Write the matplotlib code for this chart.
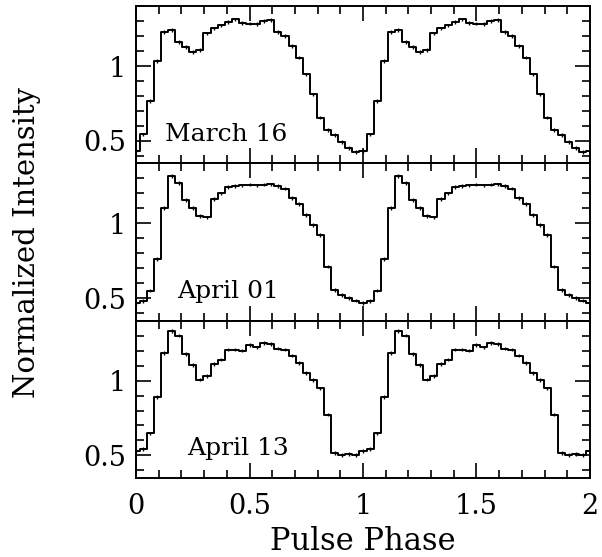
import numpy as np
import matplotlib
matplotlib.use('Agg')
import matplotlib.pyplot as plt
from matplotlib.ticker import MultipleLocator, FuncFormatter

plt.rcParams['font.family'] = 'DejaVu Serif'

# pulse profiles, 32 phase bins per cycle (bin centres at k/32)
march16 = [0.433, 0.544, 0.767, 1.033, 1.229, 1.240, 1.160, 1.127,
           1.093, 1.107, 1.218, 1.251, 1.271, 1.293, 1.311, 1.289,
           1.284, 1.282, 1.300, 1.307, 1.229, 1.200, 1.133, 1.056,
           0.944, 0.811, 0.656, 0.573, 0.538, 0.493, 0.451, 0.427]
april01 = [0.467, 0.480, 0.551, 0.762, 1.104, 1.316, 1.271, 1.156,
           1.104, 1.049, 1.040, 1.162, 1.200, 1.244, 1.249, 1.253,
           1.258, 1.253, 1.258, 1.260, 1.249, 1.231, 1.167, 1.127,
           1.056, 0.989, 0.922, 0.711, 0.556, 0.522, 0.500, 0.484]
april13 = [0.530, 0.544, 0.647, 0.889, 1.184, 1.329, 1.300, 1.178,
           1.102, 1.007, 1.029, 1.111, 1.140, 1.207, 1.207, 1.200,
           1.236, 1.222, 1.251, 1.244, 1.213, 1.207, 1.167, 1.118,
           1.051, 1.002, 0.947, 0.773, 0.518, 0.502, 0.511, 0.502]

profiles = [march16, april01, april13]
labels = ['March 16', 'April 01', 'April 13']
label_x = [0.128, 0.179, 0.225]
err = 0.012
nbins = 32

phase = np.arange(2 * nbins + 1) / nbins

fig = plt.figure(figsize=(6.02, 5.57), dpi=100)
axes = fig.subplots(3, 1, sharex=True)
fig.subplots_adjust(left=0.226, right=0.980, top=0.989, bottom=0.142, hspace=0)

fmt = FuncFormatter(lambda v, p: '%g' % v)

for ax, prof, lab, lx in zip(axes, profiles, labels, label_x):
    vals = np.array(prof + prof + prof[:1])
    ax.step(phase, vals, where='mid', color='black', lw=1.4)
    ax.errorbar(phase, vals, yerr=err, fmt='none', ecolor='black', elinewidth=1)
    ax.set_xlim(0, 2)
    ax.set_ylim(0.35, 1.4)
    ax.xaxis.set_major_locator(MultipleLocator(0.5))
    ax.xaxis.set_minor_locator(MultipleLocator(0.1))
    ax.yaxis.set_major_locator(MultipleLocator(0.5))
    ax.yaxis.set_minor_locator(MultipleLocator(0.1))
    ax.yaxis.set_major_formatter(fmt)
    ax.xaxis.set_major_formatter(fmt)
    ax.tick_params(which='both', direction='in', top=True, right=True, width=1.2)
    ax.tick_params(which='major', length=11, labelsize=19.5, pad=7)
    ax.tick_params(which='minor', length=6)
    ax.tick_params(axis='x', which='major', pad=11)
    for s in ax.spines.values():
        s.set_linewidth(1.4)
    ax.text(lx, 0.5, lab, fontsize=18, ha='left', va='baseline')

fig.text(0.045, 0.565, 'Normalized Intensity', rotation=90, fontsize=21,
         ha='center', va='center')
fig.text(0.603, 0.028, 'Pulse Phase', fontsize=22, ha='center', va='center')

fig.savefig('out.png', dpi=100)
